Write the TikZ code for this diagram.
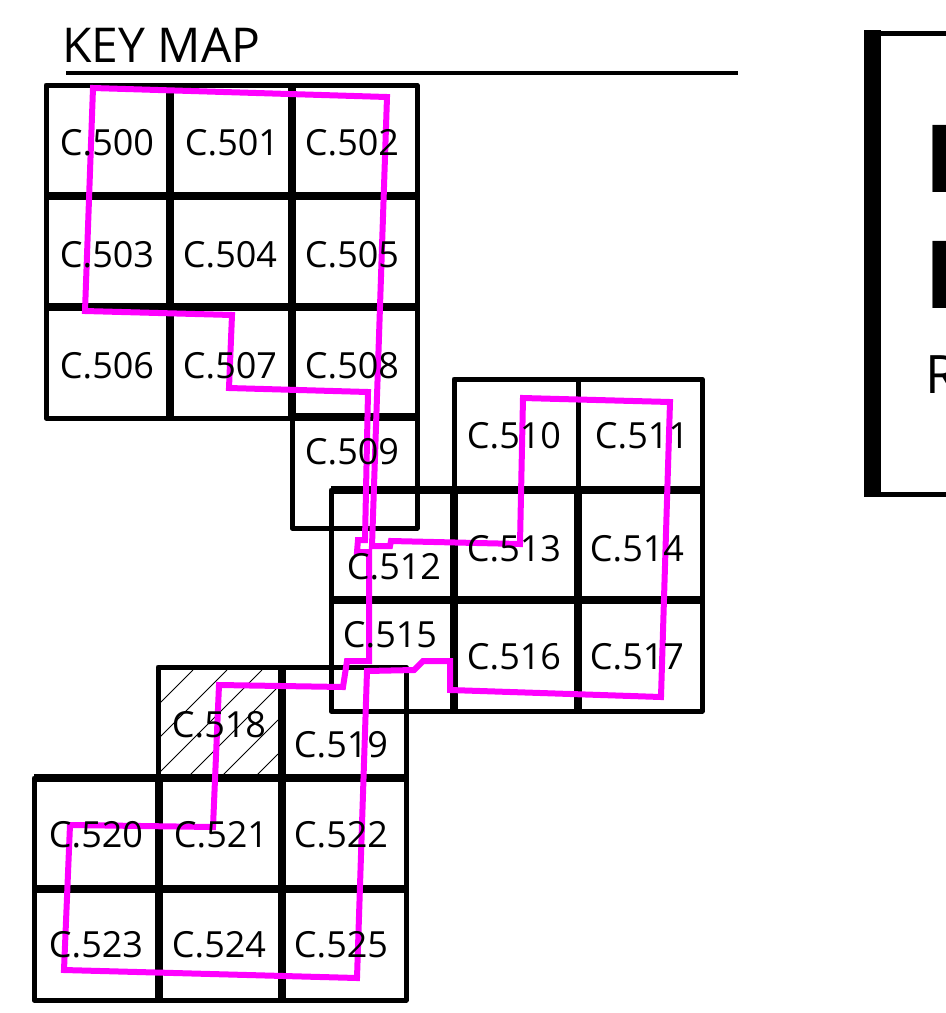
\documentclass[tikz,border=0pt]{standalone}
\usepackage{fontspec}
\setmainfont{Open Sans}
\definecolor{route}{RGB}{255,0,255}
\tikzset{
  x=1pt,y=-1pt,
  cell/.style={inner sep=0pt,font=\fontsize{36}{40}\selectfont,anchor=center},
  thin grid/.style={line width=5pt,line cap=round,line join=round},
  thick grid/.style={line width=8pt},
  hatch/.style={line width=1pt},
  route line/.style={draw=route,line width=6pt,line join=miter},
}
\begin{document}
\begin{tikzpicture}
\useasboundingbox (0,0) rectangle (946,1013);
% hatching
\foreach \a/\b/\c/\d in {160/703/193/670,160/737/227/670,160/772/262/670,190/775/278/687,223/775/278/720,257/775/278/754}
  \draw[hatch] (\a,\b) -- (\c,\d);
% upper block
\draw[thin grid] (46,85) rectangle (417,418);
\draw[thin grid] (292,418) rectangle (417,528);
\draw[thick grid] (46,196) -- (417,196) (46,307) -- (417,307) (292,417) -- (417,417);
\draw[thick grid] (170,85) -- (170,418) (292,85) -- (292,418);
% middle block
\draw[thin grid] (331,490) rectangle (702,711);
\draw[thin grid] (454,379) rectangle (702,490);
\draw[thick grid] (331,490) -- (702,490) (331,600) -- (702,600);
\draw[thick grid] (454,490) -- (454,711) (578,490) -- (578,711);
\draw[line width=5pt] (578,379) -- (578,490);
% lower block
\draw[thin grid] (158,667) rectangle (406,778);
\draw[thin grid] (34,778) rectangle (406,1000);
\draw[thick grid] (34,778) -- (406,778) (34,889) -- (406,889);
\draw[thick grid] (159,778) -- (159,1000) (282,667) -- (282,1000);
% key map heading
\node[inner sep=0pt,anchor=base west,font=\fontsize{48}{52}\selectfont] (title) at (62,62) {KEY MAP};
\coordinate (ruleA) at (66,73);
\coordinate (ruleB) at (738,73);
\draw[line width=4pt] (ruleA) -- (ruleB);
% route
\draw[route line] (93,88) -- (387,97) -- (372,546) -- (390,546) -- (391,541) -- (520,544) -- (523,398) -- (670,402) -- (661,697) -- (450,690) -- (450,661) -- (423,661) -- (414,670) -- (367,671) -- (357,978) -- (64,970) -- (70,825) -- (213,827) -- (219,685) -- (343,687) -- (347,661) -- (369,661) -- (369,552) -- (357,552) -- (358,540) -- (365,540) -- (368,392) -- (229,388) -- (232,315) -- (85,311) -- cycle;
% labels, printed over the route
\foreach \n/\x/\y in {500/107/143,501/232/143,502/352/143,503/107/255,504/230/255,505/352/255,506/107/366,507/230/366,508/352/366,509/352/452,510/514/436,511/642/436,512/394/567,513/514/549,514/637/549,515/390/635,516/514/657,517/637/657,518/219/725,519/341/745,520/96/835,521/221/835,522/341/835,523/96/945,524/219/945,525/341/945}
  \node[cell] (c\n) at (\x,\y) {C.\n};
% title box, cut by the page edge
\begin{scope}
\clip (0,0) rectangle (946,1013);
\fill (864,30) rectangle (881,497);
\draw[line width=5pt] (881,33) -- (960,33) (881,494) -- (960,494);
\node[inner sep=0pt,anchor=base west,font=\fontsize{94}{98}\selectfont\bfseries] (lineA) at (924,192) {B};
\node[inner sep=0pt,anchor=base west,font=\fontsize{94}{98}\selectfont\bfseries] (lineB) at (924,308) {P};
\node[inner sep=0pt,anchor=base west,font=\fontsize{53}{57}\selectfont] (lineC) at (925,393) {R};
\end{scope}
\end{tikzpicture}
\end{document}
